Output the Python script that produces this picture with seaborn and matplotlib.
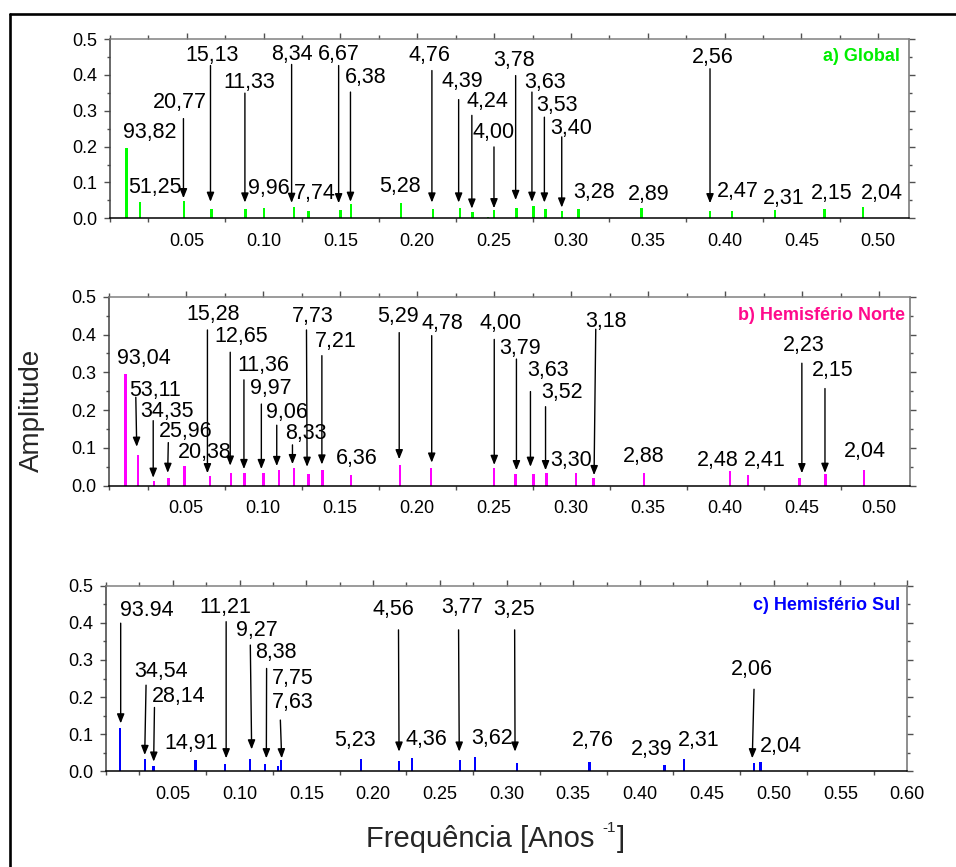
import numpy as np
import pandas as pd
import matplotlib
matplotlib.use("Agg")
import matplotlib.pyplot as plt
import seaborn as sns
from matplotlib.ticker import FixedLocator, MultipleLocator, FormatStrFormatter
from matplotlib.lines import Line2D

# ---------------- data ----------------
# a) Global
a_freq = [0.0107, 0.0195, 0.0481, 0.0661, 0.0883, 0.1004, 0.1199, 0.1292, 0.1499, 0.1567,
          0.1894, 0.2101, 0.2278, 0.2358, 0.2460, 0.2500, 0.2646, 0.2755, 0.2833, 0.2941,
          0.3049, 0.3460, 0.3906, 0.4049, 0.4329, 0.4651, 0.4902]
a_amp = [0.196, 0.046, 0.048, 0.026, 0.025, 0.030, 0.031, 0.020, 0.023, 0.041,
         0.044, 0.025, 0.030, 0.017, 0.004, 0.024, 0.030, 0.035, 0.025, 0.021,
         0.026, 0.028, 0.019, 0.021, 0.023, 0.026, 0.031]
a_labels = ["93,82", "51,25", "20,77", "15,13", "11,33", "9,96", "8,34", "7,74", "6,67", "6,38",
            "5,28", "4,76", "4,39", "4,24", "4,00", "3,78", "3,63", "3,53", "3,40", "3,28",
            "2,89", "2,56", "2,47", "2,31", "2,15", "2,04"]

# b) Hemisfério Norte
b_freq = [0.0107, 0.0188, 0.0291, 0.0385, 0.0491, 0.0654, 0.0791, 0.0880, 0.1003, 0.1104,
          0.1200, 0.1294, 0.1387, 0.1572, 0.1890, 0.2092, 0.2500, 0.2639, 0.2755, 0.2841,
          0.3030, 0.3145, 0.3472, 0.4032, 0.4149, 0.4484, 0.4651, 0.4902]
b_amp = [0.295, 0.081, 0.012, 0.020, 0.052, 0.025, 0.034, 0.034, 0.034, 0.042,
         0.048, 0.032, 0.042, 0.029, 0.056, 0.048, 0.047, 0.032, 0.031, 0.034,
         0.034, 0.021, 0.034, 0.040, 0.027, 0.020, 0.031, 0.041]
b_labels = ["93,04", "53,11", "34,35", "25,96", "20,38", "15,28", "12,65", "11,36", "9,97", "9,06",
            "8,33", "7,73", "7,21", "6,36", "5,29", "4,78", "4,00", "3,79", "3,63", "3,52",
            "3,30", "3,18", "2,88", "2,48", "2,41", "2,23", "2,15", "2,04"]

# c) Hemisfério Sul
c_freq = [0.0106, 0.0290, 0.0355, 0.0671, 0.0892, 0.1079, 0.1193, 0.1290, 0.1311, 0.1912,
          0.2193, 0.2294, 0.2653, 0.2762, 0.3077, 0.3623, 0.4184, 0.4329, 0.4854, 0.4902]
c_amp = [0.116, 0.032, 0.014, 0.031, 0.020, 0.032, 0.020, 0.013, 0.031, 0.034,
         0.028, 0.036, 0.030, 0.039, 0.023, 0.026, 0.016, 0.033, 0.022, 0.025]
c_labels = ["93.94", "34,54", "28,14", "14,91", "11,21", "9,27", "8,38", "7,75", "7,63", "5,23",
            "4,56", "4,36", "3,77", "3,62", "3,25", "2,76", "2,39", "2,31", "2,06", "2,04"]

titles = ["a) Global", "b) Hemisfério Norte", "c) Hemisfério Sul"]
xticks_ab = [0.05, 0.10, 0.15, 0.20, 0.25, 0.30, 0.35, 0.40, 0.45, 0.50]
xticks_c = [0.05, 0.10, 0.15, 0.20, 0.25, 0.30, 0.35, 0.40, 0.45, 0.50, 0.55, 0.60]
yticks = [0.0, 0.1, 0.2, 0.3, 0.4, 0.5]
ylabel_text = "Amplitude"
xlabel_parts = ["Frequência [Anos ", "-1", "]"]

# ---------------- layout (label / arrow placement) ----------------
a_label_pos = [(0.0259, 0.238), (0.0291, 0.086), (0.0456, 0.324), (0.0663, 0.454), (0.0906, 0.380),
               (0.1032, 0.083), (0.1182, 0.458), (0.1334, 0.069), (0.1488, 0.458), (0.1662, 0.392),
               (0.1889, 0.090), (0.2080, 0.454), (0.2290, 0.382), (0.2456, 0.326), (0.2494, 0.238),
               (0.2629, 0.440), (0.2829, 0.380), (0.2912, 0.315), (0.2999, 0.250), (0.3151, 0.071),
               (0.3503, 0.067), (0.3920, 0.449), (0.4085, 0.076), (0.4385, 0.056), (0.4694, 0.069),
               (0.5024, 0.069)]
a_arrows = [(0.0478, 0.278, 0.0478, 0.056), (0.0654, 0.426, 0.0654, 0.046), (0.0878, 0.349, 0.0878, 0.044),
            (0.1182, 0.429, 0.1182, 0.043), (0.1488, 0.426, 0.1488, 0.042), (0.1565, 0.352, 0.1565, 0.046),
            (0.2095, 0.412, 0.2095, 0.044), (0.2269, 0.331, 0.2269, 0.044), (0.2355, 0.287, 0.2355, 0.027),
            (0.2499, 0.199, 0.2499, 0.028), (0.2640, 0.398, 0.2640, 0.051), (0.2746, 0.352, 0.2746, 0.046),
            (0.2827, 0.282, 0.2827, 0.044), (0.2940, 0.227, 0.2940, 0.030), (0.3905, 0.417, 0.3905, 0.042)]

b_label_pos = [(0.0224, 0.337), (0.0302, 0.253), (0.0378, 0.196), (0.0497, 0.143), (0.0624, 0.088),
               (0.0678, 0.454), (0.0859, 0.394), (0.1000, 0.319), (0.1052, 0.257), (0.1154, 0.194),
               (0.1278, 0.138), (0.1323, 0.447), (0.1475, 0.381), (0.1606, 0.072), (0.1877, 0.447),
               (0.2166, 0.428), (0.2540, 0.429), (0.2671, 0.363), (0.2851, 0.306), (0.2942, 0.246),
               (0.2997, 0.066), (0.3227, 0.434), (0.3473, 0.077), (0.3949, 0.066), (0.4259, 0.066),
               (0.4509, 0.372), (0.4698, 0.306), (0.4909, 0.090)]
b_arrows = [(0.0174, 0.234, 0.0180, 0.103), (0.0287, 0.172, 0.0287, 0.021), (0.0385, 0.114, 0.0381, 0.034),
            (0.0639, 0.412, 0.0639, 0.033), (0.0787, 0.353, 0.0787, 0.053), (0.0876, 0.280, 0.0876, 0.044),
            (0.0989, 0.216, 0.0989, 0.044), (0.1089, 0.160, 0.1089, 0.052), (0.1191, 0.108, 0.1191, 0.057),
            (0.1282, 0.412, 0.1286, 0.050), (0.1382, 0.344, 0.1382, 0.056), (0.1884, 0.405, 0.1884, 0.070),
            (0.2095, 0.397, 0.2095, 0.061), (0.2501, 0.387, 0.2501, 0.055), (0.2645, 0.335, 0.2645, 0.041),
            (0.2736, 0.249, 0.2736, 0.050), (0.2834, 0.209, 0.2834, 0.041), (0.3160, 0.414, 0.3149, 0.028),
            (0.4498, 0.324, 0.4498, 0.033), (0.4648, 0.257, 0.4648, 0.034)]

c_label_pos = [(0.0303, 0.434), (0.0413, 0.268), (0.0545, 0.201), (0.0638, 0.075), (0.0890, 0.442),
               (0.1133, 0.379), (0.1270, 0.320), (0.1396, 0.250), (0.1396, 0.185), (0.1863, 0.083),
               (0.2150, 0.437), (0.2401, 0.086), (0.2666, 0.442), (0.2891, 0.089), (0.3058, 0.437),
               (0.3646, 0.083), (0.4091, 0.060), (0.4439, 0.082), (0.4839, 0.273), (0.5054, 0.066)]
c_arrows = [(0.0110, 0.399, 0.0110, 0.129), (0.0300, 0.232, 0.0290, 0.044), (0.0363, 0.172, 0.0357, 0.026),
            (0.0900, 0.403, 0.0900, 0.035), (0.1081, 0.340, 0.1091, 0.059), (0.1203, 0.277, 0.1201, 0.035),
            (0.1306, 0.138, 0.1316, 0.035), (0.2191, 0.381, 0.2195, 0.053), (0.2641, 0.381, 0.2646, 0.053),
            (0.3061, 0.381, 0.3064, 0.053), (0.4854, 0.221, 0.4841, 0.035)]

# ---------------- style ----------------
sns.set_style("ticks")
plt.rcParams['font.family'] = ['Liberation Sans', 'DejaVu Sans']

W, H = 956, 867
fig = plt.figure(figsize=(W / 100, H / 100), dpi=100)
fig.patch.set_facecolor("white")


def px_rect(left, top, right, bottom):
    return [left / W, 1 - bottom / H, (right - left) / W, (bottom - top) / H]


def draw_panel(rect, freq, amp, bar_color, labels, label_pos, arrows, title, title_color,
               title_xy, xmax, xticks, bar_w):
    ax = fig.add_axes(rect)
    df = pd.DataFrame({"f": freq, "a": amp})
    native = np.min(np.diff(np.unique(df["f"].values)))
    sns.barplot(data=df, x="f", y="a", native_scale=True, width=bar_w / native,
                color=bar_color, saturation=1, linewidth=0, errorbar=None, ax=ax, zorder=2)
    ax.set_xlim(0, xmax)
    ax.set_ylim(0, 0.5)
    ax.set_xlabel("")
    ax.set_ylabel("")
    ax.xaxis.set_major_locator(FixedLocator(xticks))
    ax.xaxis.set_major_formatter(FormatStrFormatter("%.2f"))
    ax.xaxis.set_minor_locator(MultipleLocator(0.025))
    ax.yaxis.set_major_locator(FixedLocator(yticks))
    ax.yaxis.set_major_formatter(FormatStrFormatter("%.1f"))
    ax.yaxis.set_minor_locator(MultipleLocator(0.05))
    tc = "#505050"
    ax.tick_params(axis="x", which="major", direction="out", length=4.3, width=1.0, color=tc,
                   bottom=False, top=True, labelbottom=True, labeltop=False,
                   labelsize=13, pad=6.0, labelcolor="black")
    ax.tick_params(axis="x", which="minor", direction="out", length=2.9, width=1.0, color=tc,
                   bottom=True, top=True)
    ax.tick_params(axis="y", which="major", direction="out", length=4.3, width=1.0, color=tc,
                   left=True, right=True, labelleft=True, labelright=False,
                   labelsize=13, pad=5.0, labelcolor="black")
    ax.tick_params(axis="y", which="minor", direction="out", length=2.2, width=1.0, color=tc,
                   left=True, right=True)
    for side, col in [("top", "#808080"), ("right", "#707070"), ("left", "#404040"), ("bottom", "#000000")]:
        ax.spines[side].set_visible(True)
        ax.spines[side].set_color(col)
        ax.spines[side].set_linewidth(1.1)

    for (x0, y0, x1, y1) in arrows:
        ax.annotate("", xy=(x1, y1), xytext=(x0, y0),
                    arrowprops=dict(arrowstyle="-|>,head_length=0.55,head_width=0.22",
                                    color="black", lw=1.0, shrinkA=0, shrinkB=0,
                                    mutation_scale=10), zorder=3)
    for s, (x, y) in zip(labels, label_pos):
        ax.text(x, y, s, ha="center", va="center", fontsize=15.5, color="black", zorder=4)
    ax.text(title_xy[0], title_xy[1], title, ha="right", va="center", color=title_color,
            fontsize=13, fontweight="bold", zorder=4)
    return ax


draw_panel(px_rect(110, 39, 909, 218.3), a_freq, a_amp, "#00ff00", a_labels, a_label_pos, a_arrows,
           titles[0], "#00ee00", (0.5143, 0.452), 0.52, xticks_ab, 0.0016)
draw_panel(px_rect(109, 296.7, 910, 485.7), b_freq, b_amp, "#ff00ff", b_labels, b_label_pos, b_arrows,
           titles[1], "#ff0a8c", (0.5169, 0.449), 0.52, xticks_ab, 0.0016)
draw_panel(px_rect(106, 585.7, 907, 771.3), c_freq, c_amp, "#0000ff", c_labels, c_label_pos, c_arrows,
           titles[2], "#0000ff", (0.5952, 0.448), 0.60, xticks_c, 0.0018)

fig.text(32 / W, 1 - 410 / H, ylabel_text, rotation=90, fontsize=20, ha="center", va="center")

# x label with a small raised "-1"
renderer = fig.canvas.get_renderer()
base_y = 1 - 847 / H  # baseline
t1 = fig.text(0, base_y, xlabel_parts[0], fontsize=21, ha="left", va="baseline")
t2 = fig.text(0, base_y + 15 / H, xlabel_parts[1], fontsize=11, ha="left", va="baseline")
t3 = fig.text(0, base_y, xlabel_parts[2], fontsize=21, ha="left", va="baseline")
w1 = t1.get_window_extent(renderer).width
w2 = t2.get_window_extent(renderer).width
w3 = t3.get_window_extent(renderer).width
total = w1 + w2 + 1 + w3
x_start = 495.7 - total / 2
t1.set_x(x_start / W)
t2.set_x((x_start + w1) / W)
t3.set_x((x_start + w1 + w2 + 1) / W)

# outer frame (left and top edges visible in the reference)
fig.add_artist(Line2D([10 / W, 10 / W], [0, 1 - 14 / H], transform=fig.transFigure,
                      color="black", lw=1.9))
fig.add_artist(Line2D([10 / W, 1.0], [1 - 14 / H, 1 - 14 / H], transform=fig.transFigure,
                      color="black", lw=1.9))

fig.savefig("out.png", dpi=100)
